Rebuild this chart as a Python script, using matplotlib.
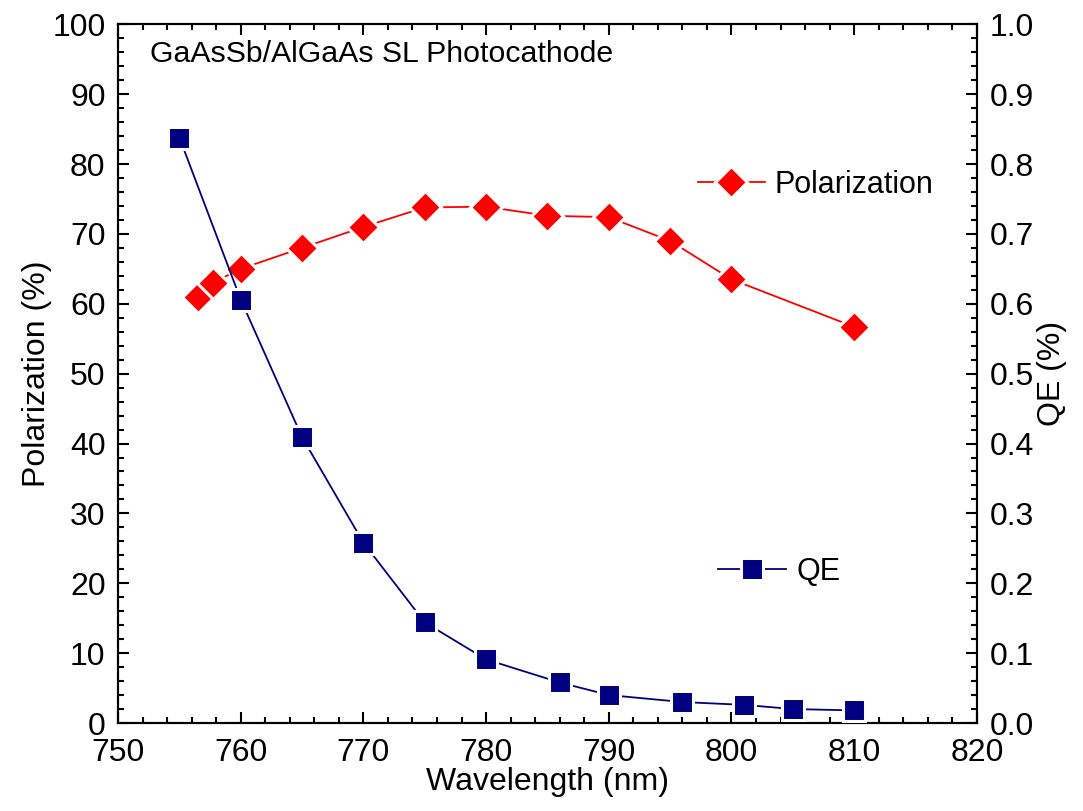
import matplotlib
matplotlib.use("Agg")
from matplotlib import pyplot as plt
from matplotlib.ticker import MultipleLocator

plt.rcParams['font.family'] = ['Liberation Sans', 'DejaVu Sans']

# data
pol_wl = [756.5, 757.7, 760, 765, 770, 775, 780, 785, 790, 795, 800, 810]
pol = [61.0, 63.0, 65.0, 68.0, 71.0, 73.8, 73.9, 72.6, 72.4, 69.0, 63.5, 56.7]

qe_wl = [755, 760, 765, 770, 775, 780, 786, 790, 796, 801, 805, 810]
qe = [0.838, 0.606, 0.409, 0.258, 0.144, 0.091, 0.058, 0.040, 0.030, 0.026, 0.020, 0.018]

fs = 23
red = '#ff0000'
navy = '#000080'

fig = plt.figure(figsize=(10.83, 8.11), dpi=100)
ax = fig.add_axes([0.109, 0.1085, 0.793, 0.8615])
ax2 = ax.twinx()

lp, = ax.plot(pol_wl, pol, color=red, lw=1.3, marker='D', ms=16.5,
              markerfacecolor=red, markeredgecolor='white', markeredgewidth=2.2,
              label='Polarization', zorder=3)
lq, = ax2.plot(qe_wl, qe, color=navy, lw=1.3, marker='s', ms=15.5,
               markerfacecolor=navy, markeredgecolor='white', markeredgewidth=2.2,
               label='QE', zorder=3)

ax.set_xlim(750, 820)
ax.set_ylim(0, 100)
ax2.set_ylim(0, 1.0)

ax.xaxis.set_major_locator(MultipleLocator(10))
ax.xaxis.set_minor_locator(MultipleLocator(2))
ax.yaxis.set_major_locator(MultipleLocator(10))
ax.yaxis.set_minor_locator(MultipleLocator(2))
ax2.yaxis.set_major_locator(MultipleLocator(0.1))
ax2.yaxis.set_minor_locator(MultipleLocator(0.02))
ax2.yaxis.set_major_formatter(matplotlib.ticker.FormatStrFormatter('%.1f'))

ax.tick_params(axis='both', which='both', direction='in', top=True, right=False,
               labelsize=fs, width=1.5)
ax.tick_params(axis='both', which='major', length=8)
ax.tick_params(axis='both', which='minor', length=4.5)
ax.tick_params(axis='y', pad=9)
ax.tick_params(axis='x', pad=11)
ax2.tick_params(axis='y', which='both', direction='in', labelsize=fs, width=1.5, pad=9)
ax2.tick_params(axis='y', which='major', length=8)
ax2.tick_params(axis='y', which='minor', length=4.5)

for a in (ax, ax2):
    for s in a.spines.values():
        s.set_linewidth(1.5)

ax.set_xlabel('Wavelength (nm)', fontsize=fs, labelpad=-1)
ax.set_ylabel('Polarization (%)', fontsize=fs, labelpad=0)
ax2.set_ylabel('QE (%)', fontsize=fs, rotation=90, labelpad=2)

ax.text(0.037, 0.958, 'GaAsSb/AlGaAs SL Photocathode', transform=ax.transAxes,
        fontsize=21.8, ha='left', va='center')

ax.legend(handles=[lp], loc='center left', bbox_to_anchor=(0.675, 0.77),
          frameon=False, fontsize=22, handlelength=2.2, handletextpad=0.3,
          borderpad=0, borderaxespad=0)
ax2.legend(handles=[lq], loc='center left', bbox_to_anchor=(0.699, 0.216),
           frameon=False, fontsize=22, handlelength=2.2, handletextpad=0.35,
           borderpad=0, borderaxespad=0)

fig.savefig('out.png', dpi=100)
